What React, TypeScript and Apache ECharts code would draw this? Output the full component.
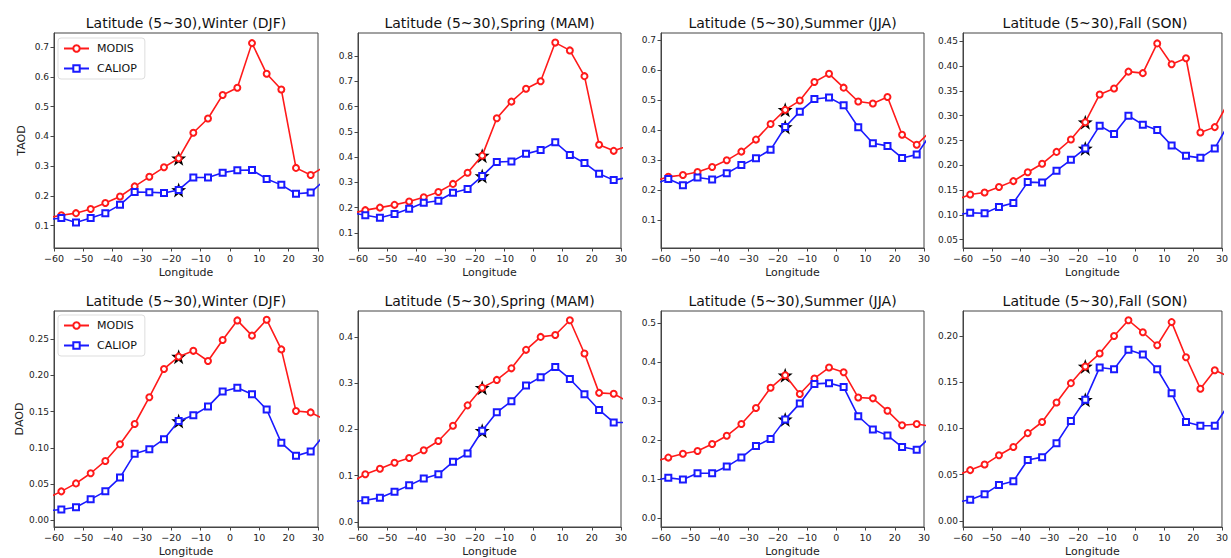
import React, { useEffect, useRef } from "react";
import * as echarts from "echarts";

// Longitude bin centres (end bins lie just outside the plotted range and are clipped)
const lon = [-62.5, -57.5, -52.5, -47.5, -42.5, -37.5, -32.5, -27.5, -22.5, -17.5, -12.5, -7.5, -2.5, 2.5, 7.5, 12.5, 17.5, 22.5, 27.5, 32.5];
const starLon = -17.5;

const seasons = ["Winter (DJF)", "Spring (MAM)", "Summer (JJA)", "Fall (SON)"];
const titlePrefix = "Latitude (5~30),";

// TAOD
const taodModisDJF = [0.125, 0.135, 0.142, 0.156, 0.176, 0.198, 0.232, 0.264, 0.296, 0.326, 0.412, 0.46, 0.539, 0.563, 0.713, 0.61, 0.557, 0.294, 0.27, 0.3];
const taodCaliopDJF = [0.12, 0.126, 0.111, 0.126, 0.142, 0.17, 0.213, 0.212, 0.21, 0.22, 0.262, 0.262, 0.278, 0.286, 0.287, 0.257, 0.237, 0.207, 0.211, 0.255];
const taodModisMAM = [0.176, 0.19, 0.2, 0.211, 0.224, 0.241, 0.262, 0.294, 0.338, 0.406, 0.554, 0.62, 0.671, 0.701, 0.854, 0.823, 0.721, 0.449, 0.425, 0.445];
const taodCaliopMAM = [0.18, 0.17, 0.16, 0.175, 0.196, 0.219, 0.227, 0.259, 0.274, 0.325, 0.381, 0.383, 0.413, 0.428, 0.459, 0.409, 0.377, 0.334, 0.309, 0.32];
const taodModisJJA = [0.23, 0.245, 0.251, 0.261, 0.278, 0.3, 0.329, 0.369, 0.421, 0.468, 0.499, 0.561, 0.588, 0.542, 0.496, 0.489, 0.511, 0.385, 0.352, 0.4];
const taodCaliopJJA = [0.22, 0.238, 0.217, 0.243, 0.236, 0.257, 0.284, 0.307, 0.335, 0.411, 0.462, 0.504, 0.509, 0.483, 0.41, 0.357, 0.348, 0.308, 0.319, 0.39];
const taodModisSON = [0.13, 0.141, 0.145, 0.156, 0.168, 0.186, 0.203, 0.227, 0.252, 0.287, 0.343, 0.355, 0.389, 0.386, 0.446, 0.404, 0.416, 0.266, 0.277, 0.33];
const taodCaliopSON = [0.1, 0.104, 0.103, 0.116, 0.124, 0.166, 0.165, 0.189, 0.211, 0.234, 0.28, 0.263, 0.3, 0.282, 0.271, 0.24, 0.219, 0.215, 0.234, 0.285];

// DAOD
const daodModisDJF = [0.03, 0.04, 0.051, 0.065, 0.082, 0.105, 0.133, 0.17, 0.209, 0.226, 0.234, 0.22, 0.249, 0.276, 0.255, 0.277, 0.236, 0.151, 0.149, 0.139];
const daodCaliopDJF = [0.013, 0.015, 0.018, 0.029, 0.04, 0.059, 0.092, 0.098, 0.112, 0.137, 0.145, 0.157, 0.178, 0.183, 0.174, 0.153, 0.107, 0.089, 0.095, 0.12];
const daodModisMAM = [0.085, 0.103, 0.115, 0.128, 0.138, 0.155, 0.175, 0.208, 0.252, 0.29, 0.307, 0.332, 0.372, 0.4, 0.404, 0.436, 0.364, 0.279, 0.277, 0.26];
const daodCaliopMAM = [0.043, 0.047, 0.052, 0.065, 0.079, 0.094, 0.103, 0.13, 0.148, 0.197, 0.237, 0.261, 0.295, 0.313, 0.335, 0.309, 0.276, 0.242, 0.215, 0.215];
const daodModisJJA = [0.145, 0.155, 0.165, 0.172, 0.19, 0.211, 0.241, 0.282, 0.334, 0.366, 0.318, 0.358, 0.386, 0.374, 0.309, 0.307, 0.275, 0.238, 0.241, 0.235];
const daodCaliopJJA = [0.097, 0.103, 0.099, 0.115, 0.115, 0.132, 0.155, 0.185, 0.203, 0.253, 0.294, 0.344, 0.346, 0.336, 0.261, 0.227, 0.212, 0.182, 0.175, 0.21];
const daodModisSON = [0.049, 0.055, 0.061, 0.071, 0.08, 0.095, 0.107, 0.128, 0.149, 0.167, 0.181, 0.2, 0.217, 0.204, 0.19, 0.215, 0.177, 0.143, 0.163, 0.156];
const daodCaliopSON = [0.02, 0.023, 0.029, 0.039, 0.043, 0.066, 0.069, 0.084, 0.108, 0.131, 0.166, 0.164, 0.185, 0.18, 0.164, 0.138, 0.107, 0.103, 0.103, 0.127];

// y tick labels per panel
const yTicks = [
  [0.1, 0.2, 0.3, 0.4, 0.5, 0.6, 0.7],
  [0.1, 0.2, 0.3, 0.4, 0.5, 0.6, 0.7, 0.8],
  [0.1, 0.2, 0.3, 0.4, 0.5, 0.6, 0.7],
  [0.05, 0.1, 0.15, 0.2, 0.25, 0.3, 0.35, 0.4, 0.45],
  [0, 0.05, 0.1, 0.15, 0.2, 0.25],
  [0, 0.1, 0.2, 0.3, 0.4],
  [0, 0.1, 0.2, 0.3, 0.4, 0.5],
  [0, 0.05, 0.1, 0.15, 0.2],
];
const yDecimals = [1, 1, 1, 2, 2, 1, 1, 2];
const yRanges = [
  [0.025, 0.747],
  [0.04, 0.892],
  [0.008, 0.724],
  [0.033, 0.467],
  [-0.0092, 0.289],
  [-0.011, 0.456],
  [-0.023, 0.531],
  [-0.0065, 0.227],
];

const modisPanels = [taodModisDJF, taodModisMAM, taodModisJJA, taodModisSON, daodModisDJF, daodModisMAM, daodModisJJA, daodModisSON];
const caliopPanels = [taodCaliopDJF, taodCaliopMAM, taodCaliopJJA, taodCaliopSON, daodCaliopDJF, daodCaliopMAM, daodCaliopJJA, daodCaliopSON];
const yNames = ["TAOD", "DAOD"];

const FONT = "DejaVu Sans";
const RED = "#ff1a1a";
const BLUE = "#1a1aff";
const STAR = "path://M0,-10 L2.35,-3.24 L9.51,-3.09 L3.8,1.24 L5.88,8.09 L0,4 L-5.88,8.09 L-3.8,1.24 L-9.51,-3.09 L-2.35,-3.24 Z";

const gridLefts = [54, 358, 661, 963];
const gridWidths = [264, 263, 263, 264];
const gridTops = [33, 311];
const gridHeights = [215, 216];

function buildOption() {
  const grids: any[] = [];
  const xAxes: any[] = [];
  const yAxes: any[] = [];
  const series: any[] = [];
  const graphics: any[] = [];
  const starIdx = lon.indexOf(starLon);

  for (let p = 0; p < 8; p++) {
    const row = Math.floor(p / 4);
    const col = p % 4;
    grids.push({
      left: gridLefts[col],
      top: gridTops[row],
      width: gridWidths[col],
      height: gridHeights[row],
      show: true,
      borderColor: "#444",
      borderWidth: 1,
      backgroundColor: "transparent",
    });
    xAxes.push({
      type: "value",
      gridIndex: p,
      min: -60,
      max: 30,
      interval: 10,
      name: "Longitude",
      nameLocation: "middle",
      nameGap: 19,
      nameTextStyle: { fontFamily: FONT, fontSize: 11, color: "#222" },
      axisLine: { show: true, onZero: false, lineStyle: { color: "#444", width: 1 } },
      axisTick: { show: true, inside: false, length: 3.5, lineStyle: { color: "#444" } },
      axisLabel: {
        fontFamily: FONT,
        fontSize: 9.5,
        color: "#222",
        margin: 5,
        showMinLabel: true,
        showMaxLabel: true,
        formatter: (v: number) => String(v).replace("-", "\u2212"),
      },
      splitLine: { show: false },
    });
    const dec = yDecimals[p];
    yAxes.push({
      type: "value",
      gridIndex: p,
      min: yRanges[p][0],
      max: yRanges[p][1],
      name: col === 0 ? yNames[row] : "",
      nameLocation: "middle",
      nameRotate: 90,
      nameGap: 27,
      nameTextStyle: { fontFamily: FONT, fontSize: 11, color: "#222" },
      axisLine: { show: true, onZero: false, lineStyle: { color: "#444", width: 1 } },
      axisTick: { show: true, inside: false, length: 3.5, lineStyle: { color: "#444" }, customValues: yTicks[p] },
      axisLabel: {
        fontFamily: FONT,
        fontSize: 9,
        color: "#222",
        margin: 5,
        customValues: yTicks[p],
        formatter: (v: number) => v.toFixed(dec),
      },
      splitLine: { show: false },
    });

    const modis = modisPanels[p];
    const caliop = caliopPanels[p];
    series.push({
      type: "scatter",
      name: "star",
      xAxisIndex: p,
      yAxisIndex: p,
      z: 1,
      symbol: STAR,
      symbolSize: 15,
      itemStyle: { color: "#000", opacity: 1 },
      data: [[lon[starIdx], modis[starIdx]], [lon[starIdx], caliop[starIdx]]],
      silent: true,
    });
    series.push({
      type: "line",
      name: "MODIS",
      xAxisIndex: p,
      yAxisIndex: p,
      z: 3,
      clip: true,
      symbol: "emptyCircle",
      symbolSize: 6,
      color: RED,
      lineStyle: { color: RED, width: 1.6 },
      itemStyle: { color: RED, borderWidth: 1.1 },
      data: lon.map((x, i) => [x, modis[i]]),
    });
    series.push({
      type: "line",
      name: "CALIOP",
      xAxisIndex: p,
      yAxisIndex: p,
      z: 4,
      clip: true,
      symbol: "emptyRect",
      symbolSize: 6,
      color: BLUE,
      lineStyle: { color: BLUE, width: 1.6 },
      itemStyle: { color: BLUE, borderWidth: 1.1 },
      data: lon.map((x, i) => [x, caliop[i]]),
    });

    graphics.push({
      type: "text",
      x: gridLefts[col] + gridWidths[col] / 2,
      y: gridTops[row] - 10,
      style: {
        text: titlePrefix + seasons[col],
        fontFamily: FONT,
        fontSize: 14,
        fill: "#111",
        align: "center",
        verticalAlign: "middle",
      },
    });
  }

  const legendBase = {
    data: ["MODIS", "CALIOP"],
    orient: "vertical",
    left: 58,
    itemWidth: 25,
    itemHeight: 8,
    itemGap: 9,
    padding: [5, 8, 5, 5],
    borderColor: "#ddd",
    borderWidth: 1,
    borderRadius: 3,
    selectedMode: false,
    textStyle: { fontFamily: FONT, fontSize: 11, color: "#111", padding: [0, 0, 0, 3] },
  };

  return {
    animation: false,
    backgroundColor: "#fff",
    grid: grids,
    xAxis: xAxes,
    yAxis: yAxes,
    series,
    legend: [
      { ...legendBase, top: 38 },
      { ...legendBase, top: 315 },
    ],
    graphic: graphics,
  };
}

export default function App() {
  const ref = useRef<HTMLDivElement>(null);
  useEffect(() => {
    if (!ref.current) return;
    const chart = echarts.init(ref.current, undefined, { renderer: "svg" });
    chart.setOption(buildOption() as any);
    return () => chart.dispose();
  }, []);
  return (
    <div
      ref={ref}
      style={{ position: "absolute", left: 0, top: 0, width: 1231, height: 558, background: "#fff" }}
    />
  );
}
